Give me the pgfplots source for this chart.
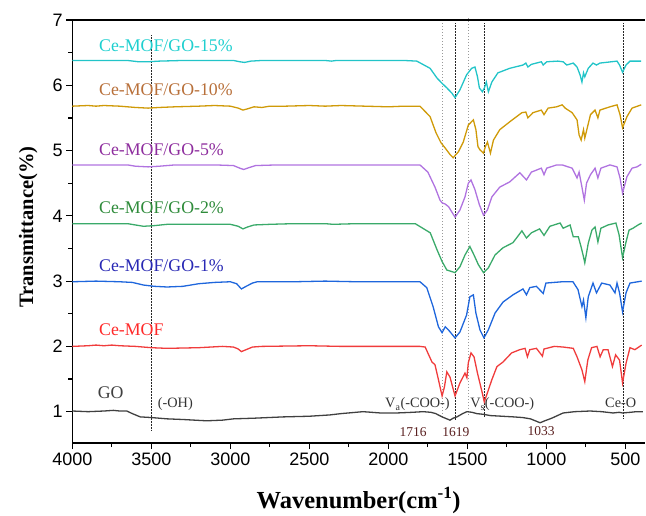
\documentclass[border=0pt]{standalone}
\usepackage{fontspec}
\setmainfont{Liberation Serif}
\newfontfamily\arialfont{Liberation Sans}
\usepackage{pgfplots}
\pgfplotsset{compat=1.18}
\definecolor{cCy}{HTML}{22C4C8}
\definecolor{cGo}{HTML}{CF9A08}
\definecolor{cPu}{HTML}{B073E0}
\definecolor{cGr}{HTML}{3AAA6A}
\definecolor{cBl}{HTML}{1E66DC}
\definecolor{cRe}{HTML}{F03C3C}
\definecolor{cGO}{HTML}{404040}
\definecolor{tCy}{HTML}{1FCFCF}
\definecolor{tGo}{HTML}{B8703A}
\definecolor{tPu}{HTML}{8E2E9E}
\definecolor{tGr}{HTML}{2E8B3A}
\definecolor{tBl}{HTML}{2828B4}
\definecolor{tRe}{HTML}{FF2A2A}
\definecolor{tNum}{HTML}{5A2020}
\begin{document}
\begin{tikzpicture}
\useasboundingbox (-72.3pt,-72pt) rectangle (573.7pt,443pt);
\begin{axis}[
  scale only axis, width=572.7pt, height=423pt,
  x dir=reverse, xmin=376, xmax=4000, ymin=0.52, ymax=7,
  axis x line*=bottom, axis y line*=left,
  xtick={500,1000,...,4000}, minor xtick={750,1250,...,3750},
  ytick={1,2,...,7}, minor ytick={0.5,1.5,...,6.5},
  tick align=outside, major tick length=6pt, minor tick length=4pt,
  tick style={black, line width=1.2pt},
  axis line style={line width=1.5pt},
  /pgf/number format/assume math mode=true,
  /pgf/number format/1000 sep={},
  ticklabel style={font=\arialfont\fontsize{18}{20}\selectfont},
  xlabel={\bfseries Wavenumber(cm\textsuperscript{-1})},
  ylabel={\bfseries Transmittance(\%)},
  xlabel style={font=\fontsize{24.5}{27}\selectfont, at={(axis description cs:0.5,-0.1537)}, anchor=base},
  ylabel style={font=\fontsize{20.5}{23}\selectfont, at={(axis description cs:-0.0686,0.5106)}, anchor=base},
  clip=false,
]
% dotted guide lines
\addplot[forget plot, black!85, densely dotted, line width=0.5pt] coordinates {(3500,6.77) (3500,0.72)};
\addplot[forget plot, gray!80, dotted, line width=1.0pt] coordinates {(1660,6.95) (1660,0.90)};
\addplot[forget plot, black!85, densely dotted, line width=0.5pt] coordinates {(1578,6.95) (1578,0.88)};
\addplot[forget plot, gray!80, dotted, line width=1.0pt] coordinates {(1496,7.03) (1496,0.95)};
\addplot[forget plot, black!85, densely dotted, line width=0.5pt] coordinates {(1395,6.95) (1395,0.92)};
\addplot[forget plot, black!85, densely dotted, line width=0.5pt] coordinates {(515,6.95) (515,0.90)};
% GO
\addplot[cGO, line width=1.3pt] coordinates {
(4000,1.01)(3900,1.00)(3800,1.01)(3740,1.02)(3700,1.01)(3655,1.01)(3620,0.97)(3600,0.95)(3570,0.92)(3500,0.91)(3400,0.89)(3300,0.88)(3150,0.86)(3050,0.87)(2980,0.89)(2850,0.90)(2664,0.92)(2500,0.93)(2370,0.95)(2300,0.97)(2160,1.00)(2050,0.98)(1947,0.98)(1850,0.99)(1780,1.00)(1730,0.99)(1700,0.97)(1660,0.92)(1630,0.89)(1610,0.87)(1590,0.90)(1566,0.92)(1530,0.97)(1503,1.00)(1470,0.99)(1440,0.97)(1400,0.96)(1354,0.94)(1280,0.93)(1208,0.92)(1150,0.91)(1101,0.89)(1070,0.86)(1040,0.83)(1010,0.86)(966,0.90)(930,0.94)(894,0.98)(820,1.00)(723,1.01)(650,1.00)(578,0.98)(540,0.99)(518,0.98)(470,0.99)(430,1.00)(390,1.00)};
% Ce-MOF
\addplot[cRe, line width=1.3pt] coordinates {
(4000,2.00)(3900,2.01)(3850,2.02)(3800,2.01)(3750,2.02)(3700,2.01)(3600,2.00)(3500,1.98)(3400,1.97)(3200,1.98)(3050,2.00)(2980,1.99)(2950,1.96)(2930,1.92)(2900,1.95)(2860,1.99)(2800,2.00)(2500,2.01)(2300,2.00)(2100,2.00)(1900,2.00)(1800,2.00)(1767,1.99)(1724,1.76)(1705,1.72)(1683,1.49)(1660,1.24)(1645,1.38)(1630,1.61)(1610,1.53)(1578,1.24)(1547,1.44)(1515,1.59)(1503,1.52)(1494,1.75)(1477,1.90)(1458,1.84)(1436,1.59)(1406,1.29)(1393,1.15)(1373,1.29)(1345,1.49)(1313,1.69)(1275,1.76)(1220,1.90)(1168,1.95)(1135,1.97)(1120,1.84)(1105,1.95)(1063,1.97)(1025,1.85)(1015,1.96)(950,2.00)(894,1.99)(830,1.97)(806,1.84)(775,1.64)(757,1.46)(738,1.79)(714,1.98)(680,2.00)(660,1.84)(640,1.95)(610,1.95)(582,1.69)(562,1.87)(537,1.79)(518,1.44)(496,1.74)(471,1.98)(440,1.95)(397,2.02)};
% 1%
\addplot[cBl, line width=1.3pt] coordinates {
(4000,2.99)(3850,3.00)(3700,2.99)(3620,2.98)(3550,2.94)(3480,2.92)(3400,2.91)(3300,2.92)(3200,2.96)(3100,2.98)(3000,2.99)(2960,2.96)(2930,2.88)(2900,2.92)(2860,2.97)(2830,2.99)(2600,2.99)(2400,3.00)(2200,2.99)(2000,2.99)(1850,2.99)(1800,2.99)(1757,2.90)(1717,2.61)(1683,2.30)(1660,2.21)(1640,2.30)(1619,2.25)(1578,2.13)(1547,2.22)(1505,2.48)(1484,2.76)(1462,2.79)(1446,2.51)(1420,2.25)(1395,2.13)(1368,2.25)(1325,2.51)(1274,2.68)(1211,2.79)(1148,2.88)(1126,2.79)(1105,2.90)(1063,2.92)(1020,2.81)(1003,2.97)(900,2.99)(832,2.99)(800,2.87)(775,2.61)(765,2.71)(750,2.44)(735,2.76)(705,2.97)(683,2.82)(650,2.97)(598,2.94)(566,2.82)(553,2.97)(537,2.82)(518,2.53)(496,2.82)(471,2.97)(397,3.00)};
% 2%
\addplot[cGr, line width=1.3pt] coordinates {
(4000,3.88)(3800,3.88)(3650,3.88)(3600,3.86)(3550,3.84)(3480,3.85)(3400,3.87)(3200,3.87)(3000,3.87)(2950,3.84)(2920,3.80)(2890,3.83)(2850,3.86)(2750,3.87)(2600,3.88)(2400,3.88)(2350,3.87)(2200,3.88)(2000,3.88)(1900,3.88)(1830,3.88)(1735,3.74)(1692,3.48)(1660,3.30)(1630,3.17)(1578,3.13)(1547,3.22)(1515,3.40)(1484,3.53)(1458,3.40)(1430,3.25)(1398,3.13)(1368,3.20)(1325,3.40)(1275,3.51)(1211,3.59)(1155,3.77)(1126,3.66)(1095,3.74)(1043,3.80)(1015,3.70)(978,3.84)(913,3.89)(894,3.81)(850,3.86)(830,3.68)(798,3.68)(780,3.52)(765,3.37)(757,3.28)(735,3.58)(712,3.78)(692,3.83)(674,3.60)(655,3.81)(610,3.86)(560,3.89)(540,3.71)(518,3.36)(496,3.60)(477,3.78)(452,3.81)(420,3.86)(397,3.89)};
% 5%
\addplot[cPu, line width=1.3pt] coordinates {
(4000,4.78)(3800,4.78)(3650,4.78)(3600,4.76)(3520,4.75)(3450,4.76)(3350,4.78)(3100,4.78)(2980,4.77)(2940,4.73)(2915,4.71)(2880,4.74)(2840,4.77)(2700,4.78)(2400,4.78)(2100,4.78)(1900,4.78)(1800,4.78)(1750,4.67)(1705,4.44)(1673,4.24)(1660,4.20)(1640,4.18)(1619,4.14)(1578,3.98)(1547,4.09)(1515,4.29)(1494,4.50)(1477,4.55)(1452,4.40)(1424,4.17)(1398,4.01)(1373,4.09)(1345,4.29)(1295,4.44)(1232,4.52)(1168,4.66)(1126,4.55)(1095,4.67)(1032,4.73)(1015,4.63)(998,4.73)(935,4.78)(900,4.78)(837,4.73)(806,4.58)(793,4.67)(775,4.44)(760,4.24)(746,4.50)(721,4.63)(692,4.73)(674,4.58)(655,4.73)(598,4.78)(553,4.75)(534,4.58)(518,4.35)(490,4.60)(458,4.73)(427,4.75)(400,4.79)};
% 10%
\addplot[cGo, line width=1.3pt] coordinates {
(4000,5.68)(3900,5.69)(3850,5.68)(3800,5.69)(3700,5.68)(3600,5.66)(3520,5.65)(3450,5.66)(3350,5.67)(3200,5.68)(3100,5.69)(3000,5.68)(2950,5.65)(2920,5.62)(2890,5.64)(2850,5.67)(2800,5.66)(2750,5.68)(2650,5.68)(2500,5.69)(2400,5.68)(2300,5.69)(2150,5.68)(2000,5.67)(1900,5.68)(1800,5.68)(1736,5.52)(1698,5.27)(1667,5.12)(1641,5.04)(1610,4.94)(1590,4.89)(1557,4.98)(1526,5.13)(1494,5.39)(1462,5.47)(1446,5.32)(1433,5.06)(1420,5.01)(1398,4.96)(1386,5.06)(1373,5.13)(1354,4.96)(1335,5.16)(1295,5.32)(1232,5.44)(1155,5.58)(1130,5.59)(1117,5.50)(1085,5.58)(1032,5.62)(1015,5.55)(989,5.65)(935,5.67)(900,5.70)(881,5.65)(837,5.58)(806,5.47)(793,5.24)(780,5.16)(765,5.32)(757,5.19)(740,5.36)(721,5.55)(692,5.62)(674,5.50)(661,5.62)(598,5.67)(553,5.70)(534,5.55)(518,5.35)(490,5.52)(458,5.65)(400,5.70)};
% 15%
\addplot[cCy, line width=1.3pt] coordinates {
(4000,6.38)(3900,6.38)(3800,6.38)(3650,6.38)(3580,6.36)(3520,6.36)(3450,6.37)(3300,6.38)(3100,6.38)(2980,6.38)(2940,6.36)(2910,6.35)(2870,6.37)(2800,6.38)(2600,6.38)(2400,6.38)(2360,6.37)(2330,6.38)(2200,6.38)(2000,6.38)(1900,6.38)(1820,6.37)(1736,6.26)(1692,6.11)(1660,6.03)(1630,5.96)(1598,5.88)(1578,5.81)(1547,5.93)(1505,6.16)(1473,6.26)(1452,6.28)(1436,6.13)(1424,5.96)(1405,5.90)(1392,5.96)(1380,6.05)(1367,5.90)(1345,6.05)(1307,6.19)(1232,6.26)(1148,6.31)(1130,6.34)(1117,6.28)(1095,6.32)(1032,6.36)(1020,6.31)(998,6.36)(928,6.37)(894,6.36)(871,6.31)(830,6.34)(806,6.28)(787,6.16)(775,6.05)(765,6.19)(757,6.13)(735,6.26)(705,6.34)(683,6.31)(661,6.34)(553,6.37)(537,6.31)(518,6.20)(496,6.31)(471,6.37)(400,6.37)};
% top frame line
\draw[line width=1.5pt] (rel axis cs:0,1) -- (rel axis cs:1,1);
% series labels
\begin{scope}[every node/.style={anchor=base west, inner sep=0pt, font=\fontsize{17.8}{20}\selectfont}]
\node[text=tCy] at (axis cs:3831,6.51) {Ce-MOF/GO-15\%};
\node[text=tGo] at (axis cs:3831,5.836) {Ce-MOF/GO-10\%};
\node[text=tPu] at (axis cs:3831,4.917) {Ce-MOF/GO-5\%};
\node[text=tGr] at (axis cs:3831,4.03) {Ce-MOF/GO-2\%};
\node[text=tBl] at (axis cs:3831,3.14) {Ce-MOF/GO-1\%};
\node[text=tRe] at (axis cs:3831,2.16) {Ce-MOF};
\node[text=cGO] at (axis cs:3840,1.196) {GO};
\end{scope}
% annotations
\begin{scope}[every node/.style={anchor=base west, inner sep=0pt, font=\fontsize{14.3}{16}\selectfont, text=black!80}]
\node at (axis cs:3460,1.06) {(-OH)};
\node at (axis cs:2021,1.058) {V\textsubscript{a}(-COO-)};
\node at (axis cs:1483,1.058) {V\textsubscript{s}(-COO-)};
\node at (axis cs:629,1.058) {Ce-O};
\end{scope}
\begin{scope}[every node/.style={anchor=base, inner sep=0pt, font=\fontsize{13.5}{15}\selectfont, text=tNum}]
\node at (axis cs:1844,0.614) {1716};
\node at (axis cs:1572,0.614) {1619};
\node at (axis cs:1034,0.64) {1033};
\end{scope}
\end{axis}
\end{tikzpicture}
\end{document}
